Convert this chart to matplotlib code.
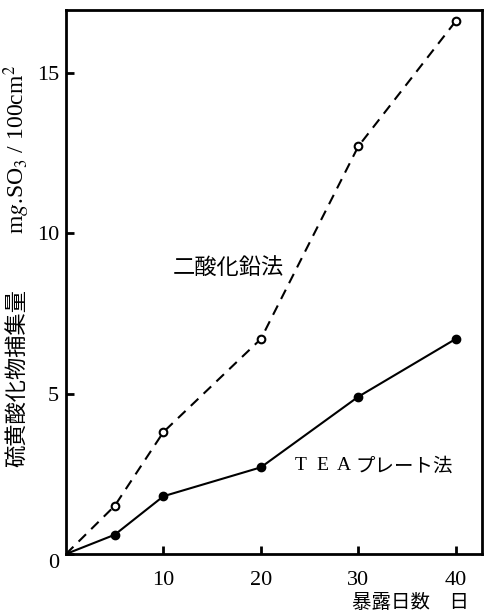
import matplotlib
matplotlib.use("Agg")
import matplotlib.pyplot as plt

plt.rcParams['mathtext.fontset'] = 'stix'

days = [0, 5, 10, 20, 30, 40]
pbo2 = [0, 1.5, 3.8, 6.7, 12.7, 16.6]
tea = [0, 0.6, 1.8, 2.7, 4.9, 6.7]
xticks = [10, 20, 30, 40]
yticks = [0, 5, 10, 15]

serif = ['Liberation Serif', 'DejaVu Serif']
cjk = ['Noto Sans CJK JP', 'DejaVu Sans']

W, H = 485, 613
fig = plt.figure(figsize=(W / 100, H / 100), dpi=100)
ax = fig.add_axes([66/W, 59/H, 416/W, 544/H])

ax.plot(days, pbo2, color='black', lw=1.5, ls=(0, (5, 3.5)))
ax.plot(days[1:], pbo2[1:], ls='none', marker='o', ms=5.5, mfc='white', mec='black', mew=1.5)
ax.plot(days, tea, color='black', lw=1.5)
ax.plot(days[1:], tea[1:], ls='none', marker='o', ms=6, mfc='black', mec='black')

ax.set_xlim(0, 42.7)
ax.set_ylim(0, 16.95)
ax.set_xticks(xticks)
ax.set_yticks(yticks)
ax.set_xticklabels([str(t) for t in xticks], fontfamily=serif, fontsize=16)
ax.set_yticklabels([str(t) for t in yticks], fontfamily=serif, fontsize=16)
ax.tick_params(direction='in', length=6, width=2)
ax.tick_params(axis='x', pad=12)
ax.tick_params(axis='y', pad=5)
ax.get_yticklabels()[0].set_va('top')
for s in ax.spines.values():
    s.set_linewidth(2)

def px2data(px, py):
    return ((px - 66) / 416 * 42.7, (554 - py) / 544 * 16.95)

x0, y0 = px2data(173, 268)
ax.text(x0, y0, '二酸化鉛法', fontfamily=cjk, fontsize=16, va='center', ha='left')
for letter, px in zip(['T', 'E', 'A'], [295, 316, 337]):
    lx, ly = px2data(px, 466)
    ax.text(lx, ly, letter, fontfamily=serif, fontsize=14, va='center', ha='left')
kx, ky = px2data(355, 466)
ax.text(kx, ky, 'プレート法', fontfamily=cjk, fontsize=14, va='center', ha='left')

fig.text(17/W, 1 - 378/H, '硫黄酸化物捕集量', fontfamily=cjk, fontsize=16,
         rotation=90, ha='center', va='center')
fig.text(17/W, 1 - 150/H, r'm$\mathit{g}$.SO$_3$ / 100cm$^2$', fontfamily=serif, fontsize=17,
         rotation=90, ha='center', va='center')
fig.text(411/W, 1 - 603/H, '暴露日数　日', fontfamily=cjk, fontsize=14,
         ha='center', va='center')

fig.savefig('out.png', dpi=100)
